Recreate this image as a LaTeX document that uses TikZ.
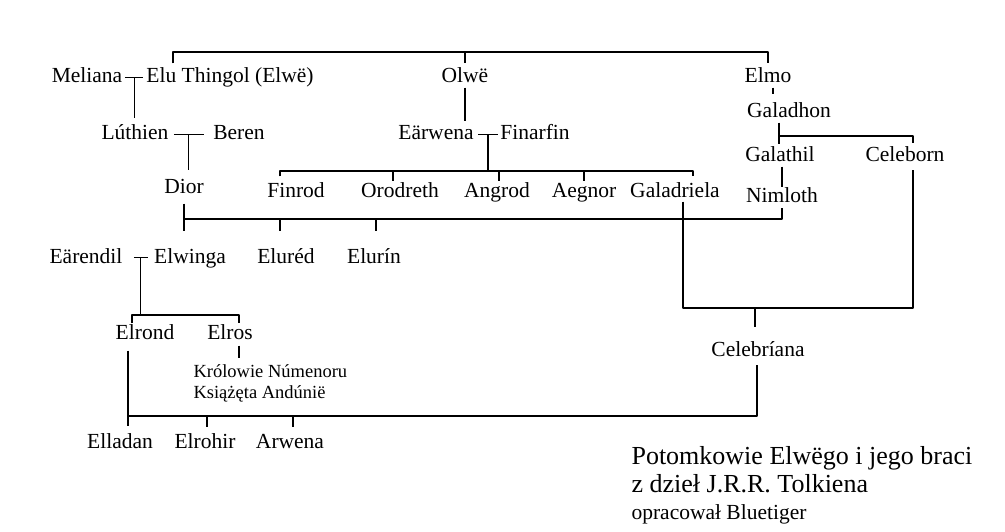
\documentclass[tikz,border=0pt]{standalone}
\usepackage{fontspec}
\setmainfont{Liberation Serif}
\begin{document}
\begin{tikzpicture}[x=1pt,y=-1pt,line width=1.1pt,line join=round,
	person/.style={anchor=base,inner sep=0pt,text height=15pt,text depth=4pt,font=\fontsize{21.5}{24}\selectfont},
	note/.style={anchor=base west,inner sep=0pt,text height=13pt,text depth=4pt,font=\fontsize{18.5}{21}\selectfont},
	heading/.style={anchor=base west,inner sep=0pt,font=\fontsize{26}{30}\selectfont}]
	\useasboundingbox (0,0) rectangle (1005,532);
	\path
	(0,52) coordinate (top)
	(0,136) coordinate (galk)
	(0,171) coordinate (sons)
	(0,219) coordinate (diork)
	(0,308) coordinate (celebr)
	(0,315) coordinate (elwk)
	(0,416) coordinate (elrk);
	% people
	\node[person] (meliana) at (87,83) {Meliana};
	\node[person] (thingol) at (230,83) {Elu Thingol (Elwë)};
	\node[person] (olwe) at (465,83) {Olwë};
	\node[person] (elmo) at (768,83) {Elmo};
	\node[person] (luthien) at (135,140) {Lúthien};
	\node[person] (beren) at (239,140) {Beren};
	\node[person] (earwena) at (436,140) {Eärwena};
	\node[person] (finarfin) at (535,140) {Finarfin};
	\node[person] (galadhon) at (789,118) {Galadhon};
	\node[person] (galathil) at (780,162) {Galathil};
	\node[person] (celeborn) at (905,162) {Celeborn};
	\node[person] (dior) at (184,194) {Dior};
	\node[person] (finrod) at (296,197) {Finrod};
	\node[person] (orodreth) at (400,197) {Orodreth};
	\node[person] (angrod) at (497,197) {Angrod};
	\node[person] (aegnor) at (584,197) {Aegnor};
	\node[person] (galadriela) at (675,197) {Galadriela};
	\node[person] (nimloth) at (782,203) {Nimloth};
	\node[person] (earendil) at (86,263) {Eärendil};
	\node[person] (elwinga) at (190,263) {Elwinga};
	\node[person] (elured) at (286,263) {Eluréd};
	\node[person] (elurin) at (374,263) {Elurín};
	\node[person] (elrond) at (145,339) {Elrond};
	\node[person] (elros) at (230,339) {Elros};
	\node[note] (kings1) at (193,377) {Królowie Númenoru};
	\node[note] (kings2) at (193,398) {Książęta Andúnië};
	\node[person] (celebriana) at (758,356) {Celebríana};
	\node[person] (elladan) at (120,448) {Elladan};
	\node[person] (elrohir) at (205,448) {Elrohir};
	\node[person] (arwena) at (290,448) {Arwena};
	\node[heading] (title1) at (631,464) {Potomkowie Elwëgo i jego braci};
	\node[heading] (title2) at (631,492) {z dzieł J.R.R. Tolkiena};
	\node[person,anchor=base west] (author) at (631,519) {opracował Bluetiger};
	% brothers
	\draw([xshift=-57pt,yshift=4pt]thingol.north)|-(top -| elmo.north)--([yshift=4pt]elmo.north);
	\draw(top -| olwe.north)--([yshift=4pt]olwe.north);
	% Thingol
	\draw[shorten <=2pt,shorten >=3pt](meliana.east)--coordinate(mt)(meliana.east -| thingol.west);
	\draw(mt)--([yshift=6pt]mt |- luthien.north);
	\draw([xshift=5pt]luthien.east)--coordinate(lb)([xshift=-9pt]luthien.east -| beren.west);
	\draw(lb)--([yshift=8pt]lb |- dior.north);
	% Olwe
	\draw(olwe.south)--([yshift=3pt]olwe.south |- earwena.north);
	\draw([xshift=4pt]earwena.east)--coordinate(ef)([xshift=-2pt]earwena.east -| finarfin.west);
	\draw(ef)--(ef |- sons);
	\draw([xshift=-16pt,yshift=5pt]finrod.north)|-([xshift=18pt]galadriela.north |- sons)--([xshift=18pt,yshift=5pt]galadriela.north);
	\draw([xshift=-7pt]orodreth.north |- sons)--([xshift=-7pt]orodreth.north);
	\draw([xshift=2pt]angrod.north |- sons)--([xshift=2pt]angrod.north);
	\draw(aegnor.north |- sons)--(aegnor.north);
	% Elmo
	\draw([xshift=5pt]elmo.south)--([xshift=5pt,yshift=8pt]elmo.south |- galadhon.north);
	\draw([xshift=-10pt]galadhon.south)--([xshift=-10pt,yshift=2pt]galadhon.south |- galathil.north);
	\draw([xshift=-10pt]galadhon.south |- galk)-|([xshift=8pt,yshift=3pt]celeborn.north);
	\draw([xshift=2pt]galathil.south)--(nimloth.north);
	% Dior
	\draw([yshift=-5pt]dior.south)--([yshift=16pt]dior.south |- elwinga.north);
	\draw(dior.south |- diork)-|(nimloth.south);
	\draw([xshift=-6pt]elured.north |- diork)--([xshift=-6pt,yshift=16pt]elured.north);
	\draw([xshift=2pt]elurin.north |- diork)--([xshift=2pt,yshift=16pt]elurin.north);
	% Galadriela
	\draw([xshift=8pt]galadriela.south)|-([xshift=8pt]celeborn.south |- celebr)--([xshift=8pt,yshift=-3pt]celeborn.south);
	\draw([xshift=-3pt]celebriana.north |- celebr)--([xshift=-3pt,yshift=13pt]celebriana.north);
	% Earendil
	\draw([xshift=11pt]earendil.east)--coordinate(ee)([xshift=-6pt]earendil.east -| elwinga.west);
	\draw(ee)--(ee |- elwk);
	\draw([xshift=-13pt]elrond.north)|-([xshift=9pt]elros.north |- elwk)--([xshift=9pt]elros.north);
	\draw([xshift=9pt,yshift=-2pt]elros.south)--([xshift=9pt,yshift=5pt]elros.south |- kings1.north);
	% Elrond
	\draw([xshift=-17pt,yshift=-7pt]elrond.south)--([xshift=-17pt,yshift=6pt]elrond.south |- elladan.north);
	\draw([xshift=-17pt]elrond.south |- elrk)-|([xshift=-1pt,yshift=-4pt]celebriana.south);
	\draw([xshift=2pt]elrohir.north |- elrk)--([xshift=2pt,yshift=5pt]elrohir.north);
	\draw([xshift=3pt]arwena.north |- elrk)--([xshift=3pt,yshift=5pt]arwena.north);
\end{tikzpicture}
\end{document}
